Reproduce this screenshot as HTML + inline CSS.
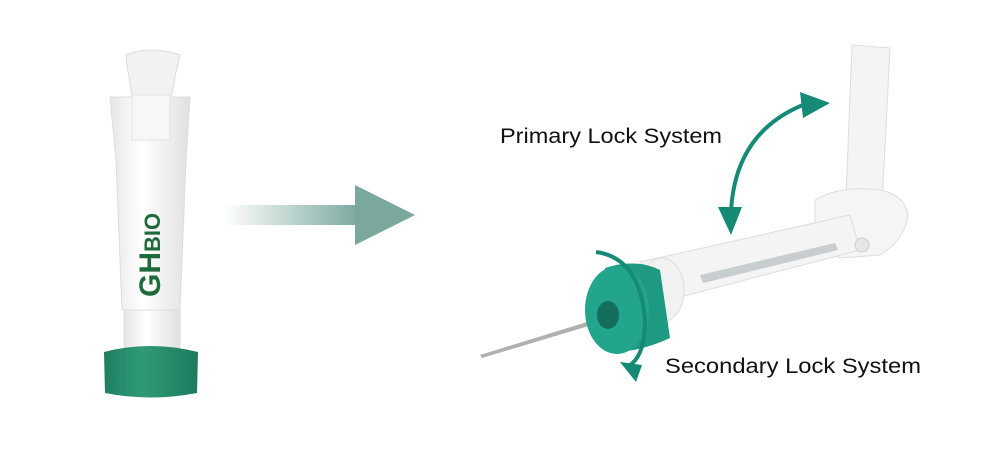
<!DOCTYPE html>
<html><head><style>
html,body{margin:0;padding:0;background:#fff;width:1000px;height:450px;overflow:hidden}
svg{display:block}
</style></head><body>
<svg width="1000" height="450" viewBox="0 0 1000 450" xmlns="http://www.w3.org/2000/svg">
<defs>
<linearGradient id="ag" x1="0" x2="1"><stop offset="0" stop-color="#fff"/><stop offset="1" stop-color="#7aa89f"/></linearGradient>
<linearGradient id="wb" x1="0" x2="1"><stop offset="0" stop-color="#e6e6e6"/><stop offset="0.4" stop-color="#fff"/><stop offset="1" stop-color="#e0e0e0"/></linearGradient>
<linearGradient id="gn" x1="0" x2="1"><stop offset="0" stop-color="#1f7e62"/><stop offset="0.4" stop-color="#2f9a78"/><stop offset="1" stop-color="#1d7a5e"/></linearGradient>
</defs>
<!-- left device -->
<path d="M126 55 Q150 45 180 55 L176 72 L172 95 L132 95 L128 72 Z" fill="#f2f2f2" stroke="#ddd"/>
<path d="M110 97 L190 97 L186 160 L180 310 L122 310 L116 160 Z" fill="url(#wb)" stroke="#ddd"/>
<path d="M132 95 L170 95 L170 140 L132 140 Z" fill="#f7f7f7" stroke="#e2e2e2"/>
<path d="M124 310 L180 310 L180 348 L124 348 Z" fill="url(#wb)" stroke="#ddd"/>
<path d="M104 352 Q150 340 198 352 L197 393 Q150 402 105 393 Z" fill="url(#gn)"/>
<text x="0" y="0" transform="translate(160,297) rotate(-90)" font-family="Liberation Sans, sans-serif" font-weight="bold" font-size="30" fill="#1e6a3a">GH<tspan font-size="22">BIO</tspan></text>
<!-- middle arrow -->
<rect x="225" y="205" width="135" height="20" fill="url(#ag)"/>
<polygon points="355,185 415,215 355,245" fill="#7aa89f"/>
<!-- right device -->
<polygon points="852,45 890,48 882,205 846,198" fill="#f4f4f4" stroke="#ddd"/>
<path d="M815 200 Q840 185 880 190 Q905 195 908 215 Q905 240 880 255 L840 258 Q815 245 815 225 Z" fill="#f5f5f5" stroke="#ddd"/>
<polygon points="640,262 850,215 860,250 650,305" fill="#f4f4f4" stroke="#ddd"/>
<polygon points="700,275 835,243 838,250 703,283" fill="#c8cdd0"/>
<circle cx="862" cy="245" r="7" fill="#e6e6e6" stroke="#ccc"/>
<path d="M480 355 L600 318 L602 322 L482 358 Z" fill="#b0b0b0"/>
<ellipse cx="662" cy="290" rx="22" ry="32" fill="#f2f2f2" stroke="#ddd"/>
<path d="M605 268 Q635 258 660 270 L670 338 Q640 352 612 352 Z" fill="#1f9a82"/>
<ellipse cx="617" cy="310" rx="32" ry="44" fill="#23a58b"/>
<ellipse cx="608" cy="315" rx="11" ry="14" fill="#146e5c"/>
<!-- arrows -->
<path d="M731 212 Q735 130 808 103" fill="none" stroke="#158a77" stroke-width="4"/>
<polygon points="800,92 830,103 803,118" fill="#158a77"/>
<polygon points="718,207 742,207 731,235" fill="#158a77"/>
<path d="M596 252 Q640 258 645 320 Q645 355 630 365" fill="none" stroke="#158a77" stroke-width="4"/>
<polygon points="620,362 642,365 636,382" fill="#158a77"/>
<text x="500" y="143" font-family="Liberation Sans, sans-serif" font-size="21" fill="#111" textLength="222" lengthAdjust="spacingAndGlyphs">Primary Lock System</text>
<text x="665" y="373" font-family="Liberation Sans, sans-serif" font-size="21" fill="#111" textLength="256" lengthAdjust="spacingAndGlyphs">Secondary Lock System</text>
</svg>
</body></html>
